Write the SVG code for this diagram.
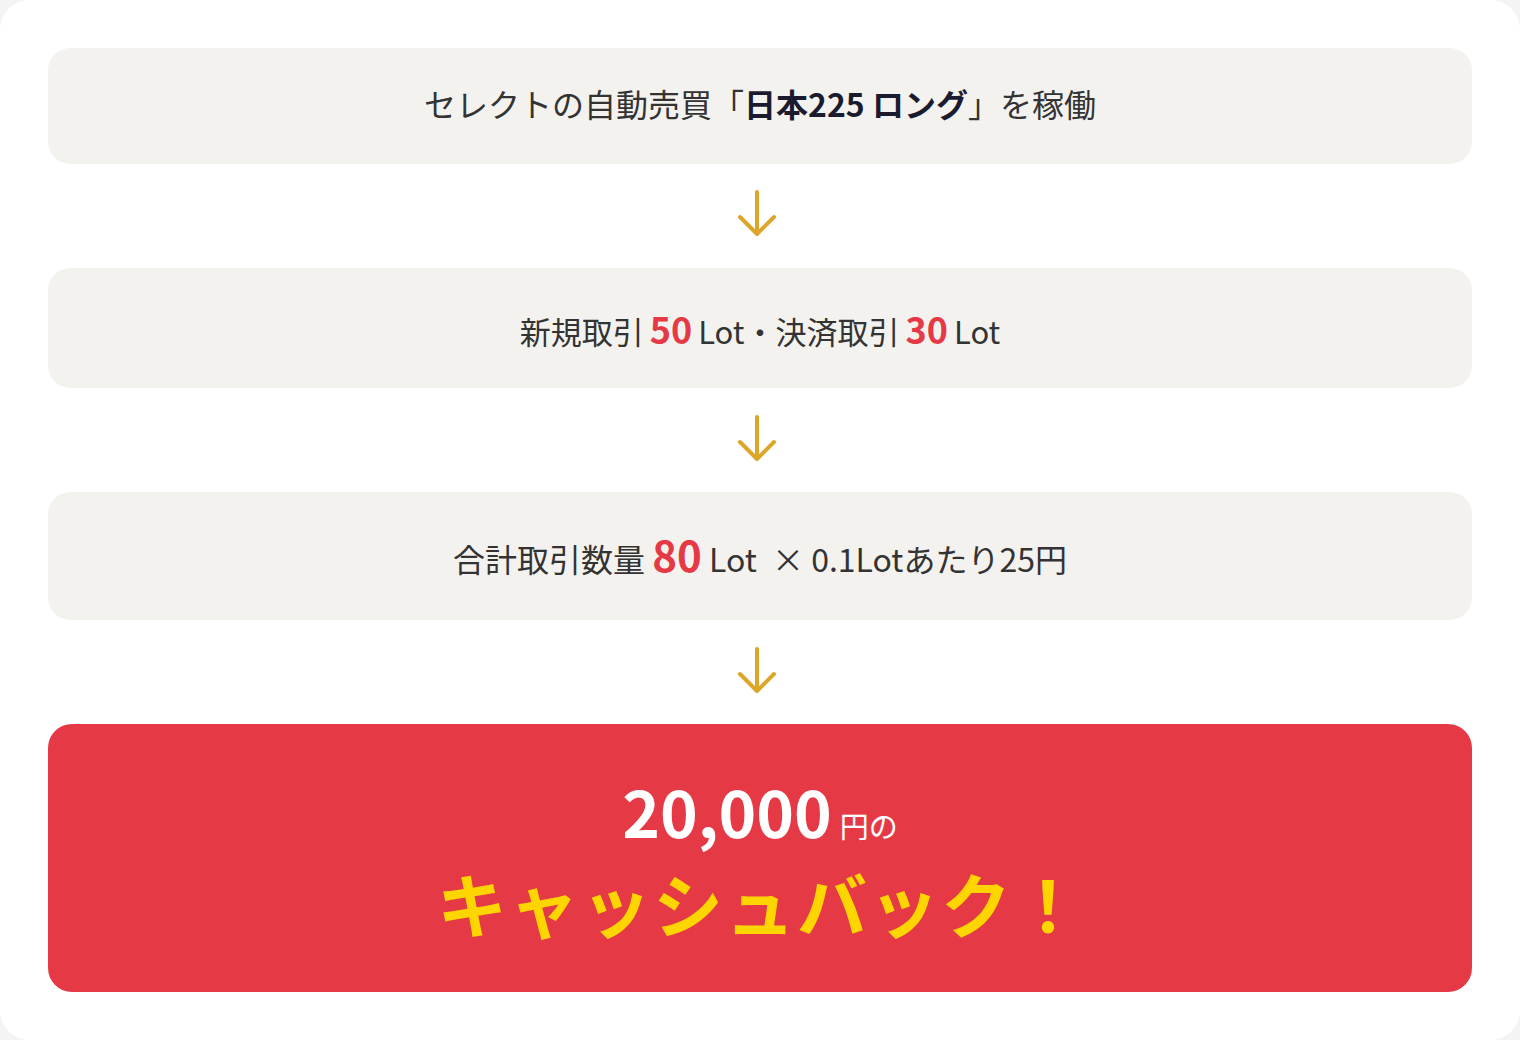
<svg xmlns="http://www.w3.org/2000/svg" width="1520" height="1040" viewBox="0 0 1520 1040">
<defs>
<style>
.t{font-family:"Noto Sans CJK JP","Noto Sans",sans-serif;fill:#333333}
.b{font-weight:700}
.red{fill:#e63946}
.box{fill:#f4f2ef}
.arr{fill:none;stroke:#dba62a;stroke-width:4;stroke-linecap:round;stroke-linejoin:round}
</style>
</defs>
<rect x="0" y="0" width="1520" height="1040" fill="#f4f4f4"/>
<rect x="0" y="0" width="1520" height="1040" rx="30" fill="#ffffff"/>
<g id="step1">
<rect class="box" x="48" y="48" width="1424" height="116" rx="22"/>
<text class="t" x="760" y="117" font-size="32" text-anchor="middle">セレクトの自動売買「<tspan class="b" style="fill:#1b1b2f">日本225 ロング</tspan>」を稼働</text>
</g>
<g id="step2">
<rect class="box" x="48" y="268" width="1424" height="120" rx="22"/>
<text class="t" x="760" y="344" font-size="31" text-anchor="middle">新規取引<tspan class="b red" font-size="36" dx="6">50</tspan><tspan dx="6">Lot・決済取引</tspan><tspan class="b red" font-size="36" dx="6">30</tspan><tspan dx="6">Lot</tspan></text>
</g>
<g id="step3">
<rect class="box" x="48" y="492" width="1424" height="128" rx="22"/>
<text class="t" x="760" y="572" font-size="32" text-anchor="middle">合計取引数量 <tspan class="b red" font-size="42">80</tspan> Lot  <tspan dx="8">× 0.1Lotあたり25円</tspan></text>
</g>
<g id="result">
<rect x="48" y="724" width="1424" height="268" rx="24" fill="#e63946"/>
<text x="760" y="838" text-anchor="middle" font-family="'Noto Sans CJK JP','Noto Sans',sans-serif" fill="#ffffff"><tspan font-size="64" font-weight="700">20,000</tspan><tspan font-size="29" dx="8">円の</tspan></text>
<text x="761" y="933" text-anchor="middle" font-family="'Noto Sans CJK JP','Noto Sans',sans-serif" font-size="70" font-weight="700" fill="#ffd500" letter-spacing="2">キャッシュバック！</text>
</g>
<g id="connectors">
<path class="arr" d="M757 192V234M740 217L757 234L774 217"/>
<path class="arr" d="M757 417V459M740 442L757 459L774 442"/>
<path class="arr" d="M757 649V691M740 674L757 691L774 674"/>
</g>
</svg>
